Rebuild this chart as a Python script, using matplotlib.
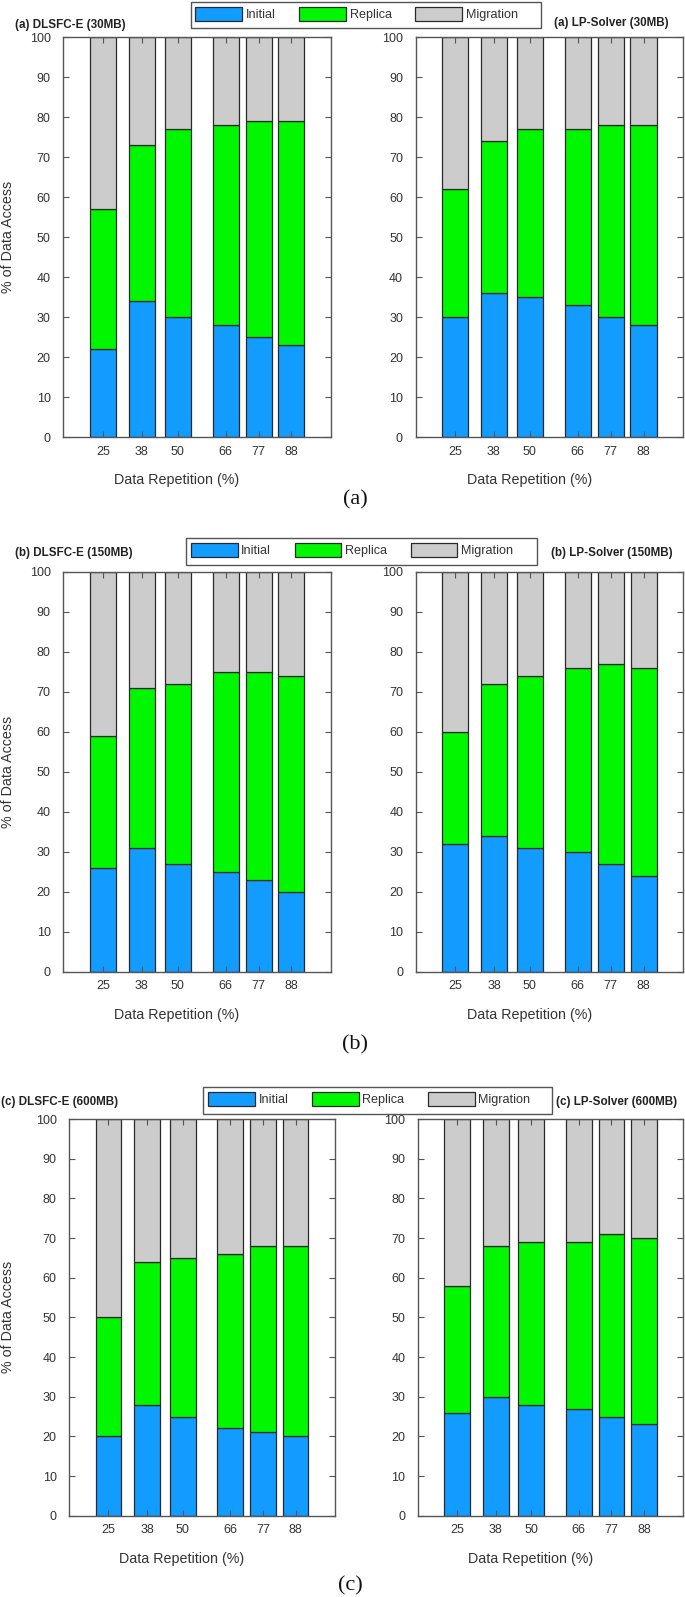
import matplotlib
matplotlib.use("Agg")
import matplotlib.pyplot as plt
from matplotlib.patches import Rectangle
import numpy as np

plt.rcParams['font.family'] = ['Liberation Sans', 'DejaVu Sans']

# ---------------- data ----------------
repetition = [25, 38, 50, 66, 77, 88]
series_names = ['Initial', 'Replica', 'Migration']
colors = ['#139cff', '#00f700', '#cccccc']

dlsfc_30_initial = [22, 34, 30, 28, 25, 23]
dlsfc_30_replica = [35, 39, 47, 50, 54, 56]
dlsfc_30_migration = [43, 27, 23, 22, 21, 21]

lp_30_initial = [30, 36, 35, 33, 30, 28]
lp_30_replica = [32, 38, 42, 44, 48, 50]
lp_30_migration = [38, 26, 23, 23, 22, 22]

dlsfc_150_initial = [26, 31, 27, 25, 23, 20]
dlsfc_150_replica = [33, 40, 45, 50, 52, 54]
dlsfc_150_migration = [41, 29, 28, 25, 25, 26]

lp_150_initial = [32, 34, 31, 30, 27, 24]
lp_150_replica = [28, 38, 43, 46, 50, 52]
lp_150_migration = [40, 28, 26, 24, 23, 24]

dlsfc_600_initial = [20, 28, 25, 22, 21, 20]
dlsfc_600_replica = [30, 36, 40, 44, 47, 48]
dlsfc_600_migration = [50, 36, 35, 34, 32, 32]

lp_600_initial = [26, 30, 28, 27, 25, 23]
lp_600_replica = [32, 38, 41, 42, 46, 47]
lp_600_migration = [42, 32, 31, 31, 29, 30]

titles_left = ['(a) DLSFC-E (30MB)', '(b) DLSFC-E (150MB)', '(c) DLSFC-E (600MB)']
titles_right = ['(a) LP-Solver (30MB)', '(b) LP-Solver (150MB)', '(c) LP-Solver (600MB)']
captions = ['(a)', '(b)', '(c)']
ylabel = '% of Data Access'
xlabel = 'Data Repetition (%)'

panels = [
    [(dlsfc_30_initial, dlsfc_30_replica, dlsfc_30_migration),
     (lp_30_initial, lp_30_replica, lp_30_migration)],
    [(dlsfc_150_initial, dlsfc_150_replica, dlsfc_150_migration),
     (lp_150_initial, lp_150_replica, lp_150_migration)],
    [(dlsfc_600_initial, dlsfc_600_replica, dlsfc_600_migration),
     (lp_600_initial, lp_600_replica, lp_600_migration)],
]

# ---------------- layout (pixels) ----------------
W, H = 685, 1597
fig = plt.figure(figsize=(W / 100, H / 100), dpi=100)


def fx(px):
    return px / W


def fy(py):
    return 1 - py / H


# (x0, x1, ytop, ybottom) for left / right axes per row
axes_px = [
    [(63.3, 331.0, 37.3, 437.3), (415.5, 683.0, 37.3, 437.3)],
    [(63.3, 331.0, 571.7, 972.0), (415.7, 683.0, 571.7, 972.0)],
    [(69.3, 334.7, 1119.0, 1515.7), (418.0, 683.3, 1119.0, 1515.7)],
]
left_title_pos = [(15, 25), (15, 553), (1, 1102)]
right_title_pos = [(669, 23), (673, 552.7), (677, 1101.7)]
# legend frame boxes: (x0, x1, ytop, ybottom)
legend_box = [(190.7, 541.0, 1.7, 28.0), (186.0, 536.7, 537.7, 565.0),
              (203.3, 551.7, 1086.7, 1114.0)]
caption_pos = [(355, 500), (355, 1045), (350, 1586)]

spine_col = '#555555'
text_col = '#333333'
bar_width = 8.7

for r in range(3):
    for c in range(2):
        x0, x1, yt, yb = axes_px[r][c]
        ax = fig.add_axes([fx(x0), fy(yb), fx(x1) - fx(x0), (yb - yt) / H])
        ini, rep, mig = panels[r][c]
        bottom = np.zeros(len(repetition))
        handles = []
        for vals, col, name in zip((ini, rep, mig), colors, series_names):
            h = ax.bar(repetition, vals, width=bar_width, bottom=bottom,
                       color=col, edgecolor='#2a2a2a', linewidth=0.9, label=name)
            handles.append(h)
            bottom = bottom + np.array(vals)
        ax.set_xlim(11.8, 101.2)
        ax.set_ylim(0, 100)
        ax.set_xticks(repetition)
        ax.set_xticklabels([str(v) for v in repetition])
        ax.set_yticks(np.arange(0, 101, 10))
        ax.tick_params(axis='both', direction='in', length=4, width=0.8,
                       color=spine_col, labelcolor=text_col, labelsize=9)
        ax.tick_params(axis='x', top=True, pad=6)
        ax.tick_params(axis='y', right=True, pad=9)
        for s in ax.spines.values():
            s.set_color(spine_col)
            s.set_linewidth(1.0)
        ax.set_xlabel(xlabel, fontsize=10.3, color=text_col)
        ax.xaxis.set_label_coords(0.425, -36 / (yb - yt))
        if c == 0:
            ax.set_ylabel(ylabel, fontsize=10.3, color=text_col)
            ax.yaxis.set_label_coords(-(x0 - 15) / (x1 - x0), 0.5)

    lx, ly = left_title_pos[r]
    fig.text(fx(lx), fy(ly), titles_left[r], ha='left', va='center',
             fontsize=8.4, fontweight='bold', color='#222222')
    rx, ry = right_title_pos[r]
    fig.text(fx(rx), fy(ry), titles_right[r], ha='right', va='center',
             fontsize=8.4, fontweight='bold', color='#222222')

    bx0, bx1, by0, by1 = legend_box[r]
    fig.add_artist(Rectangle((fx(bx0), fy(by1)), fx(bx1) - fx(bx0), (by1 - by0) / H,
                             transform=fig.transFigure, facecolor='white',
                             edgecolor=spine_col, linewidth=1.0, zorder=3))
    leg = fig.legend(handles=handles, labels=series_names, ncol=3,
                     loc='upper left', bbox_to_anchor=(fx(bx0 + 1), fy(by0 + 1.5)),
                     fontsize=9.1, handlelength=3.7, handleheight=1.3,
                     handletextpad=0.3, columnspacing=1.85, borderpad=0.3,
                     borderaxespad=0, frameon=False)
    leg.set_zorder(4)
    for t in leg.get_texts():
        t.set_color(text_col)
    cx, cy = caption_pos[r]
    fig.text(fx(cx), fy(cy), captions[r], ha='center', va='center',
             fontsize=16, family='Liberation Serif', color='#111111')

fig.savefig('out.png', dpi=100)
